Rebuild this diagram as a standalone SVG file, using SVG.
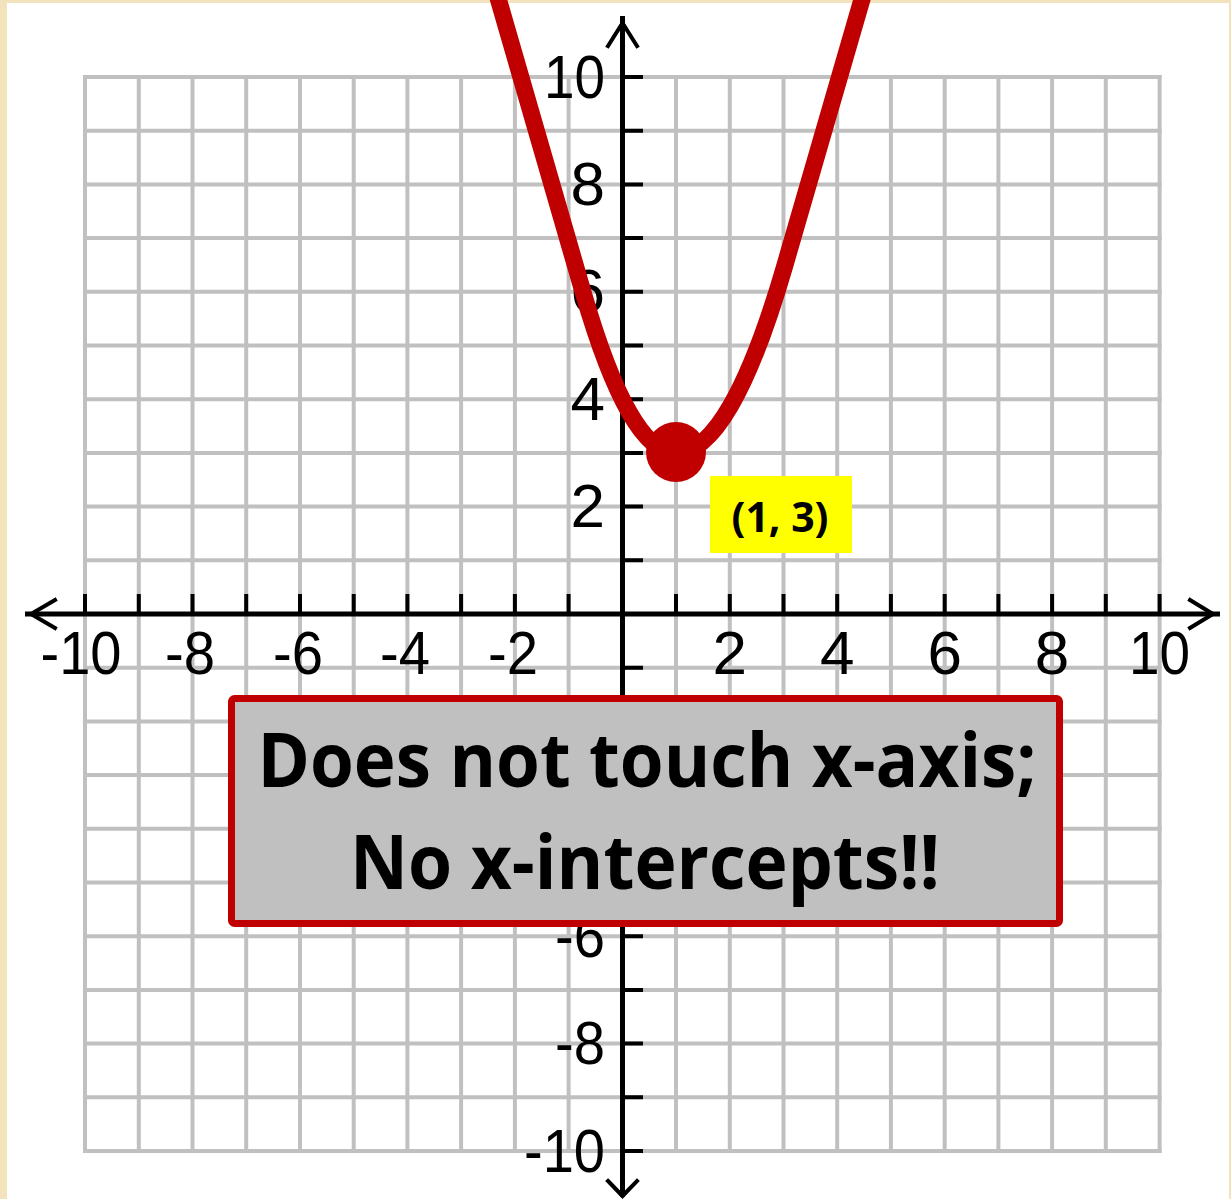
<svg xmlns="http://www.w3.org/2000/svg" width="1231" height="1199" viewBox="0 0 1231 1199">
<style>
.grid{stroke:#C0C0C0;stroke-width:4;fill:none}
.axis{stroke:#000;stroke-width:5;fill:none}
.tick{stroke:#000;stroke-width:4;fill:none}
.head{stroke:#000;stroke-width:4;fill:none;stroke-linecap:square}
.num{font-family:"Liberation Sans",Arial,sans-serif;font-size:62px;fill:#000}
.ylab{text-anchor:end}
.xlab{text-anchor:middle}
.bold{font-family:"Open Sans","Noto Sans",sans-serif;font-weight:700;fill:#000;text-anchor:middle}
</style>
<g id="background">
<rect x="0" y="0" width="1231" height="1199" fill="#F3E3BD"/>
<rect x="7" y="3" width="1222" height="1196" fill="#FFFFFF"/>
</g>
<g id="grid">
<path class="grid" d="M85,75V1153M138.8,75V1153M192.5,75V1153M246.2,75V1153M300,75V1153M353.7,75V1153M407.4,75V1153M461.1,75V1153M514.9,75V1153M568.6,75V1153M622.3,75V1153M676,75V1153M729.8,75V1153M783.5,75V1153M837.2,75V1153M890.9,75V1153M944.7,75V1153M998.4,75V1153M1052.1,75V1153M1105.8,75V1153M1159.6,75V1153"/>
<path class="grid" d="M83,77H1161.6M83,130.7H1161.6M83,184.4H1161.6M83,238.1H1161.6M83,291.8H1161.6M83,345.5H1161.6M83,399.2H1161.6M83,452.9H1161.6M83,506.6H1161.6M83,560.3H1161.6M83,614H1161.6M83,667.7H1161.6M83,721.4H1161.6M83,775.1H1161.6M83,828.8H1161.6M83,882.5H1161.6M83,936.2H1161.6M83,989.9H1161.6M83,1043.6H1161.6M83,1097.3H1161.6M83,1151H1161.6"/>
</g>
<g id="axes">
<path class="axis" d="M622.5,16V1197"/>
<path class="axis" d="M25,614H1220"/>
<path class="tick" d="M622,77H643M622,130.7H643M622,184.4H643M622,238.1H643M622,291.8H643M622,345.5H643M622,399.2H643M622,452.9H643M622,506.6H643M622,560.3H643M622,667.7H643M622,721.4H643M622,775.1H643M622,828.8H643M622,882.5H643M622,936.2H643M622,989.9H643M622,1043.6H643M622,1097.3H643M622,1151H643"/>
<path class="tick" d="M85,594V614M138.8,594V614M192.5,594V614M246.2,594V614M300,594V614M353.7,594V614M407.4,594V614M461.1,594V614M514.9,594V614M568.6,594V614M676,594V614M729.8,594V614M783.5,594V614M837.2,594V614M890.9,594V614M944.7,594V614M998.4,594V614M1052.1,594V614M1105.8,594V614M1159.6,594V614"/>
<path class="head" d="M608,46L622.5,23L637,46"/>
<path class="head" d="M55,600L31,614L55,628"/>
<path class="head" d="M1190,600L1213,614L1190,628"/>
<path class="head" d="M608,1181L622.5,1196L637,1181"/>
</g>
<g id="labels">
<text class="num ylab" x="605" y="97.5" textLength="61" lengthAdjust="spacingAndGlyphs">10</text>
<text class="num ylab" x="605" y="204.9">8</text>
<text class="num ylab" x="605" y="312.3">6</text>
<text class="num ylab" x="605" y="419.7">4</text>
<text class="num ylab" x="605" y="527.1">2</text>
<text class="num ylab" x="605" y="956.7" textLength="50" lengthAdjust="spacingAndGlyphs">-6</text>
<text class="num ylab" x="605" y="1064.1" textLength="50" lengthAdjust="spacingAndGlyphs">-8</text>
<text class="num ylab" x="605" y="1171.5" textLength="81" lengthAdjust="spacingAndGlyphs">-10</text>
<text class="num xlab" x="81" y="674" textLength="81" lengthAdjust="spacingAndGlyphs">-10</text>
<text class="num xlab" x="190" y="674" textLength="50" lengthAdjust="spacingAndGlyphs">-8</text>
<text class="num xlab" x="298" y="674" textLength="50" lengthAdjust="spacingAndGlyphs">-6</text>
<text class="num xlab" x="405" y="674" textLength="50" lengthAdjust="spacingAndGlyphs">-4</text>
<text class="num xlab" x="513" y="674" textLength="50" lengthAdjust="spacingAndGlyphs">-2</text>
<text class="num xlab" x="729.8" y="674">2</text>
<text class="num xlab" x="837.2" y="674">4</text>
<text class="num xlab" x="944.7" y="674">6</text>
<text class="num xlab" x="1052.1" y="674">8</text>
<text class="num xlab" x="1159.6" y="674" textLength="61" lengthAdjust="spacingAndGlyphs">10</text>
</g>
<g id="connectors">
<path id="parabola" d="M492.8,-20L583,292Q629.5,453 676,453Q730.5,453 784.9,265.3L867.6,-20" fill="none" stroke="#C00000" stroke-width="17" stroke-linejoin="round"/>
</g>
<g id="vertex">
<circle cx="676" cy="452" r="30" fill="#C00000"/>
</g>
<g id="vertex-label">
<rect x="710" y="476" width="142" height="77" fill="#FFFF00"/>
<text class="bold" x="780" y="532" font-size="41">(1, 3)</text>
</g>
<g id="callout">
<rect x="231.5" y="698.5" width="828" height="225" rx="3" fill="#C0C0C0" stroke="#C00000" stroke-width="7"/>
<text class="bold" x="647" y="787" font-size="76" textLength="779" lengthAdjust="spacingAndGlyphs">Does not touch x-axis;</text>
<text class="bold" x="645" y="889" font-size="76" textLength="590" lengthAdjust="spacingAndGlyphs">No x-intercepts!!</text>
</g>
</svg>
